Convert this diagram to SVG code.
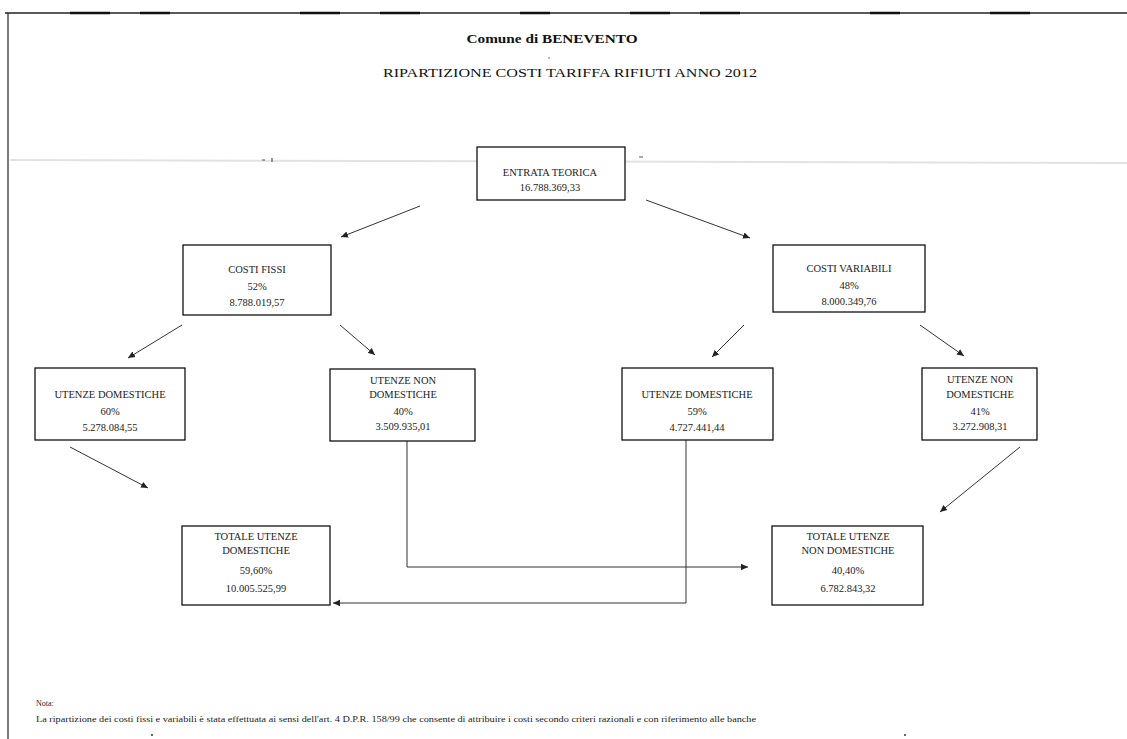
<svg xmlns="http://www.w3.org/2000/svg" width="1127" height="739" viewBox="0 0 1127 739">
<defs>
<marker id="ah" markerWidth="8" markerHeight="8" refX="7" refY="4" orient="auto" markerUnits="userSpaceOnUse">
<path d="M0,0.8 L7,4 L0,7.2 Z" fill="#222"/>
</marker>
<style>
.box{fill:#fff;stroke:#111;stroke-width:1.3}
.t{font-family:"Liberation Serif","Times New Roman",serif;font-size:10.5px;fill:#222;text-anchor:middle}
.c{fill:none;stroke:#333;stroke-width:1}
.h{font-family:"Liberation Serif","Times New Roman",serif;fill:#111;text-anchor:middle}
.n{font-family:"Liberation Serif","Times New Roman",serif;font-size:8px;fill:#222}
</style>
</defs>
<rect width="1127" height="739" fill="#fff"/>
<g id="frame">
<line x1="5" y1="13" x2="1127" y2="13" stroke="#222" stroke-width="1.6"/>
<path d="M70,13 H110 M140,13 H170 M300,13 H340 M380,13 H420 M520,13 H550 M630,13 H670 M700,13 H740 M870,13 H900 M990,13 H1030" stroke="#111" stroke-width="2.4"/>
<line x1="8" y1="13" x2="8" y2="739" stroke="#222" stroke-width="1.2"/>
<line x1="10" y1="160" x2="1127" y2="163" stroke="#e2e2e2" stroke-width="2"/>
<path d="M262,160 h3 M272,158 v4 M639,157 h4" stroke="#555" stroke-width="1.2"/>
<circle cx="549" cy="58" r="0.8" fill="#666"/>
<circle cx="152" cy="735" r="1" fill="#333"/>
<circle cx="905" cy="735" r="1" fill="#333"/>
</g>
<g id="title">
<text class="h" x="552" y="43" font-size="13" font-weight="bold" textLength="171" lengthAdjust="spacingAndGlyphs">Comune di BENEVENTO</text>
<text class="h" x="570" y="77" font-size="12" textLength="374" lengthAdjust="spacingAndGlyphs">RIPARTIZIONE COSTI TARIFFA RIFIUTI   ANNO 2012</text>
</g>
<g id="connectors">
<line class="c" x1="420" y1="206" x2="341" y2="237" marker-end="url(#ah)"/>
<line class="c" x1="646" y1="200" x2="750" y2="238" marker-end="url(#ah)"/>
<line class="c" x1="182" y1="325" x2="128" y2="358" marker-end="url(#ah)"/>
<line class="c" x1="340" y1="325" x2="375" y2="355" marker-end="url(#ah)"/>
<line class="c" x1="744" y1="325" x2="712" y2="357" marker-end="url(#ah)"/>
<line class="c" x1="920" y1="325" x2="964" y2="356" marker-end="url(#ah)"/>
<line class="c" x1="70" y1="447" x2="148" y2="488" marker-end="url(#ah)"/>
<line class="c" x1="1020" y1="447" x2="940" y2="512" marker-end="url(#ah)"/>
<polyline class="c" points="407,441 407,567 748,567" marker-end="url(#ah)"/>
<polyline class="c" points="686,440 686,603 333,603" marker-end="url(#ah)"/>
</g>
<g id="entrata">
<rect class="box" x="477" y="147" width="148" height="53"/>
<text class="t" x="550" y="176">ENTRATA TEORICA</text>
<text class="t" x="550" y="191">16.788.369,33</text>
</g>
<g id="costi-fissi">
<rect class="box" x="183" y="245" width="148" height="70"/>
<text class="t" x="257" y="273">COSTI FISSI</text>
<text class="t" x="257" y="290">52%</text>
<text class="t" x="257" y="306">8.788.019,57</text>
</g>
<g id="costi-variabili">
<rect class="box" x="773" y="245" width="152" height="67"/>
<text class="t" x="849" y="272">COSTI VARIABILI</text>
<text class="t" x="849" y="289">48%</text>
<text class="t" x="849" y="305">8.000.349,76</text>
</g>
<g id="ud-fissi">
<rect class="box" x="35" y="368" width="150" height="72"/>
<text class="t" x="110" y="398">UTENZE DOMESTICHE</text>
<text class="t" x="110" y="415">60%</text>
<text class="t" x="110" y="431">5.278.084,55</text>
</g>
<g id="und-fissi">
<rect class="box" x="330" y="369" width="145" height="72"/>
<text class="t" x="403" y="384">UTENZE NON</text>
<text class="t" x="403" y="398">DOMESTICHE</text>
<text class="t" x="403" y="415">40%</text>
<text class="t" x="403" y="430">3.509.935,01</text>
</g>
<g id="ud-variabili">
<rect class="box" x="622" y="368" width="151" height="72"/>
<text class="t" x="697" y="398">UTENZE DOMESTICHE</text>
<text class="t" x="697" y="415">59%</text>
<text class="t" x="697" y="431">4.727.441,44</text>
</g>
<g id="und-variabili">
<rect class="box" x="922" y="368" width="115" height="72"/>
<text class="t" x="980" y="383">UTENZE NON</text>
<text class="t" x="980" y="398">DOMESTICHE</text>
<text class="t" x="980" y="415">41%</text>
<text class="t" x="980" y="430">3.272.908,31</text>
</g>
<g id="totale-domestiche">
<rect class="box" x="182" y="526" width="148" height="79"/>
<text class="t" x="256" y="540">TOTALE UTENZE</text>
<text class="t" x="256" y="554">DOMESTICHE</text>
<text class="t" x="256" y="574">59,60%</text>
<text class="t" x="256" y="592">10.005.525,99</text>
</g>
<g id="totale-non-domestiche">
<rect class="box" x="772" y="526" width="151" height="79"/>
<text class="t" x="848" y="540">TOTALE UTENZE</text>
<text class="t" x="848" y="554">NON DOMESTICHE</text>
<text class="t" x="848" y="574">40,40%</text>
<text class="t" x="848" y="592">6.782.843,32</text>
</g>
<g id="nota">
<text class="n" x="36" y="706">Nota:</text>
<text class="n" x="36" y="722" textLength="720" lengthAdjust="spacingAndGlyphs">La ripartizione dei costi fissi e variabili è stata effettuata ai sensi dell'art. 4 D.P.R. 158/99 che consente di attribuire i costi secondo criteri razionali e con riferimento alle banche</text>
</g>
</svg>
